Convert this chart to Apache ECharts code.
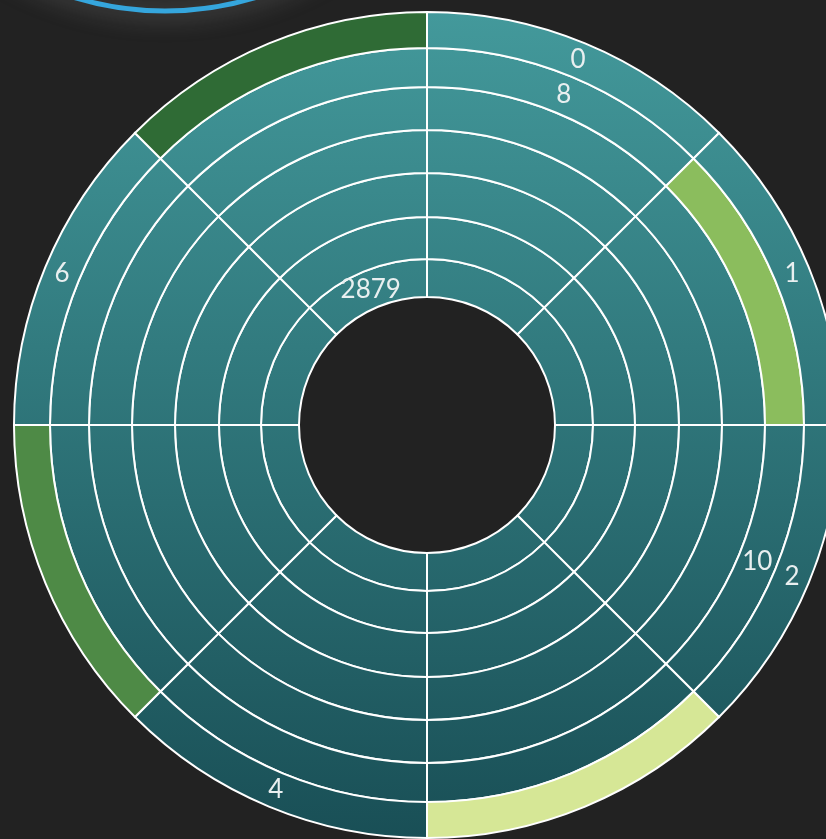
<!DOCTYPE html>
<html>
<head>
<meta charset="utf-8">
<script src="https://cdn.jsdelivr.net/npm/echarts@6/dist/echarts.min.js"></script>
<style>
  html, body { margin: 0; padding: 0; background: #222222; }
  #chart { width: 826px; height: 839px; }
</style>
</head>
<body>
<div id="chart"></div>
<script>
// sectors clockwise from 12 o'clock
const sectors = ['0', '1', '2', '3', '4', '5', '6', '7']
// ring thickness, inner ring first
const ringValues = [38, 42, 44, 43, 43, 39, 36]
// highlight class of each cell (0 = plain), inner ring first
const cellLevels = [
  [0, 0, 0, 0, 0, 0, 0, 0],
  [0, 0, 0, 0, 0, 0, 0, 0],
  [0, 0, 0, 0, 0, 0, 0, 0],
  [0, 0, 0, 0, 0, 0, 0, 0],
  [0, 0, 0, 0, 0, 0, 0, 0],
  [0, 4, 0, 0, 0, 0, 0, 0],
  [0, 0, 0, 3, 0, 2, 0, 1],
]
// cell labels, inner ring first
const cellLabels = [
  ['', '', '', '', '', '', '', '2879'],
  ['', '', '', '', '', '', '', ''],
  ['', '', '', '', '', '', '', ''],
  ['', '', '', '', '', '', '', ''],
  ['', '', '', '', '', '', '', ''],
  ['8', '', '10', '', '', '', '', ''],
  ['0', '1', '2', '', '4', '', '6', ''],
]

const chart = echarts.init(document.getElementById('chart'))

const baseFill = new echarts.graphic.LinearGradient(0, 12, 0, 838, [
  { offset: 0, color: '#43999b' },
  { offset: 1, color: '#194f56' },
], true)
const levelColors = [null, '#2f6b35', '#4e8a46', '#d6e796', '#8bbd5d']

const total = ringValues.reduce((a, b) => a + b, 0)

const series = ringValues.map((v, r) => ({
  type: 'bar',
  coordinateSystem: 'polar',
  stack: 'rings',
  barCategoryGap: '0%',
  silent: true,
  data: sectors.map((s, i) => ({
    value: v,
    itemStyle: { color: cellLevels[r][i] ? levelColors[cellLevels[r][i]] : baseFill },
    label: { show: cellLabels[r][i] !== '', formatter: cellLabels[r][i] },
  })),
  itemStyle: { borderColor: '#ffffff', borderWidth: 2 },
  label: {
    position: 'middle',
    rotate: 0,
    color: '#e9eff0',
    fontFamily: 'Lato',
    fontSize: 26,
  },
}))

chart.setOption({
  backgroundColor: '#222222',
  animation: false,
  polar: { center: [427, 425], radius: [128, 413] },
  angleAxis: {
    type: 'category',
    data: sectors,
    startAngle: 90,
    clockwise: true,
    axisLine: { show: false },
    axisTick: { show: false },
    axisLabel: { show: false },
    splitLine: { show: false },
  },
  radiusAxis: {
    type: 'value',
    min: 0,
    max: total,
    axisLine: { show: false },
    axisTick: { show: false },
    axisLabel: { show: false },
    splitLine: { show: false },
  },
  graphic: [
    {
      type: 'circle',
      shape: { cx: 165, cy: -300, r: 311 },
      style: {
        fill: 'none',
        stroke: '#35a6dd',
        lineWidth: 5,
        shadowBlur: 24,
        shadowColor: 'rgba(200, 200, 200, 0.6)',
      },
    },
  ],
  series,
})
</script>
</body>
</html>
